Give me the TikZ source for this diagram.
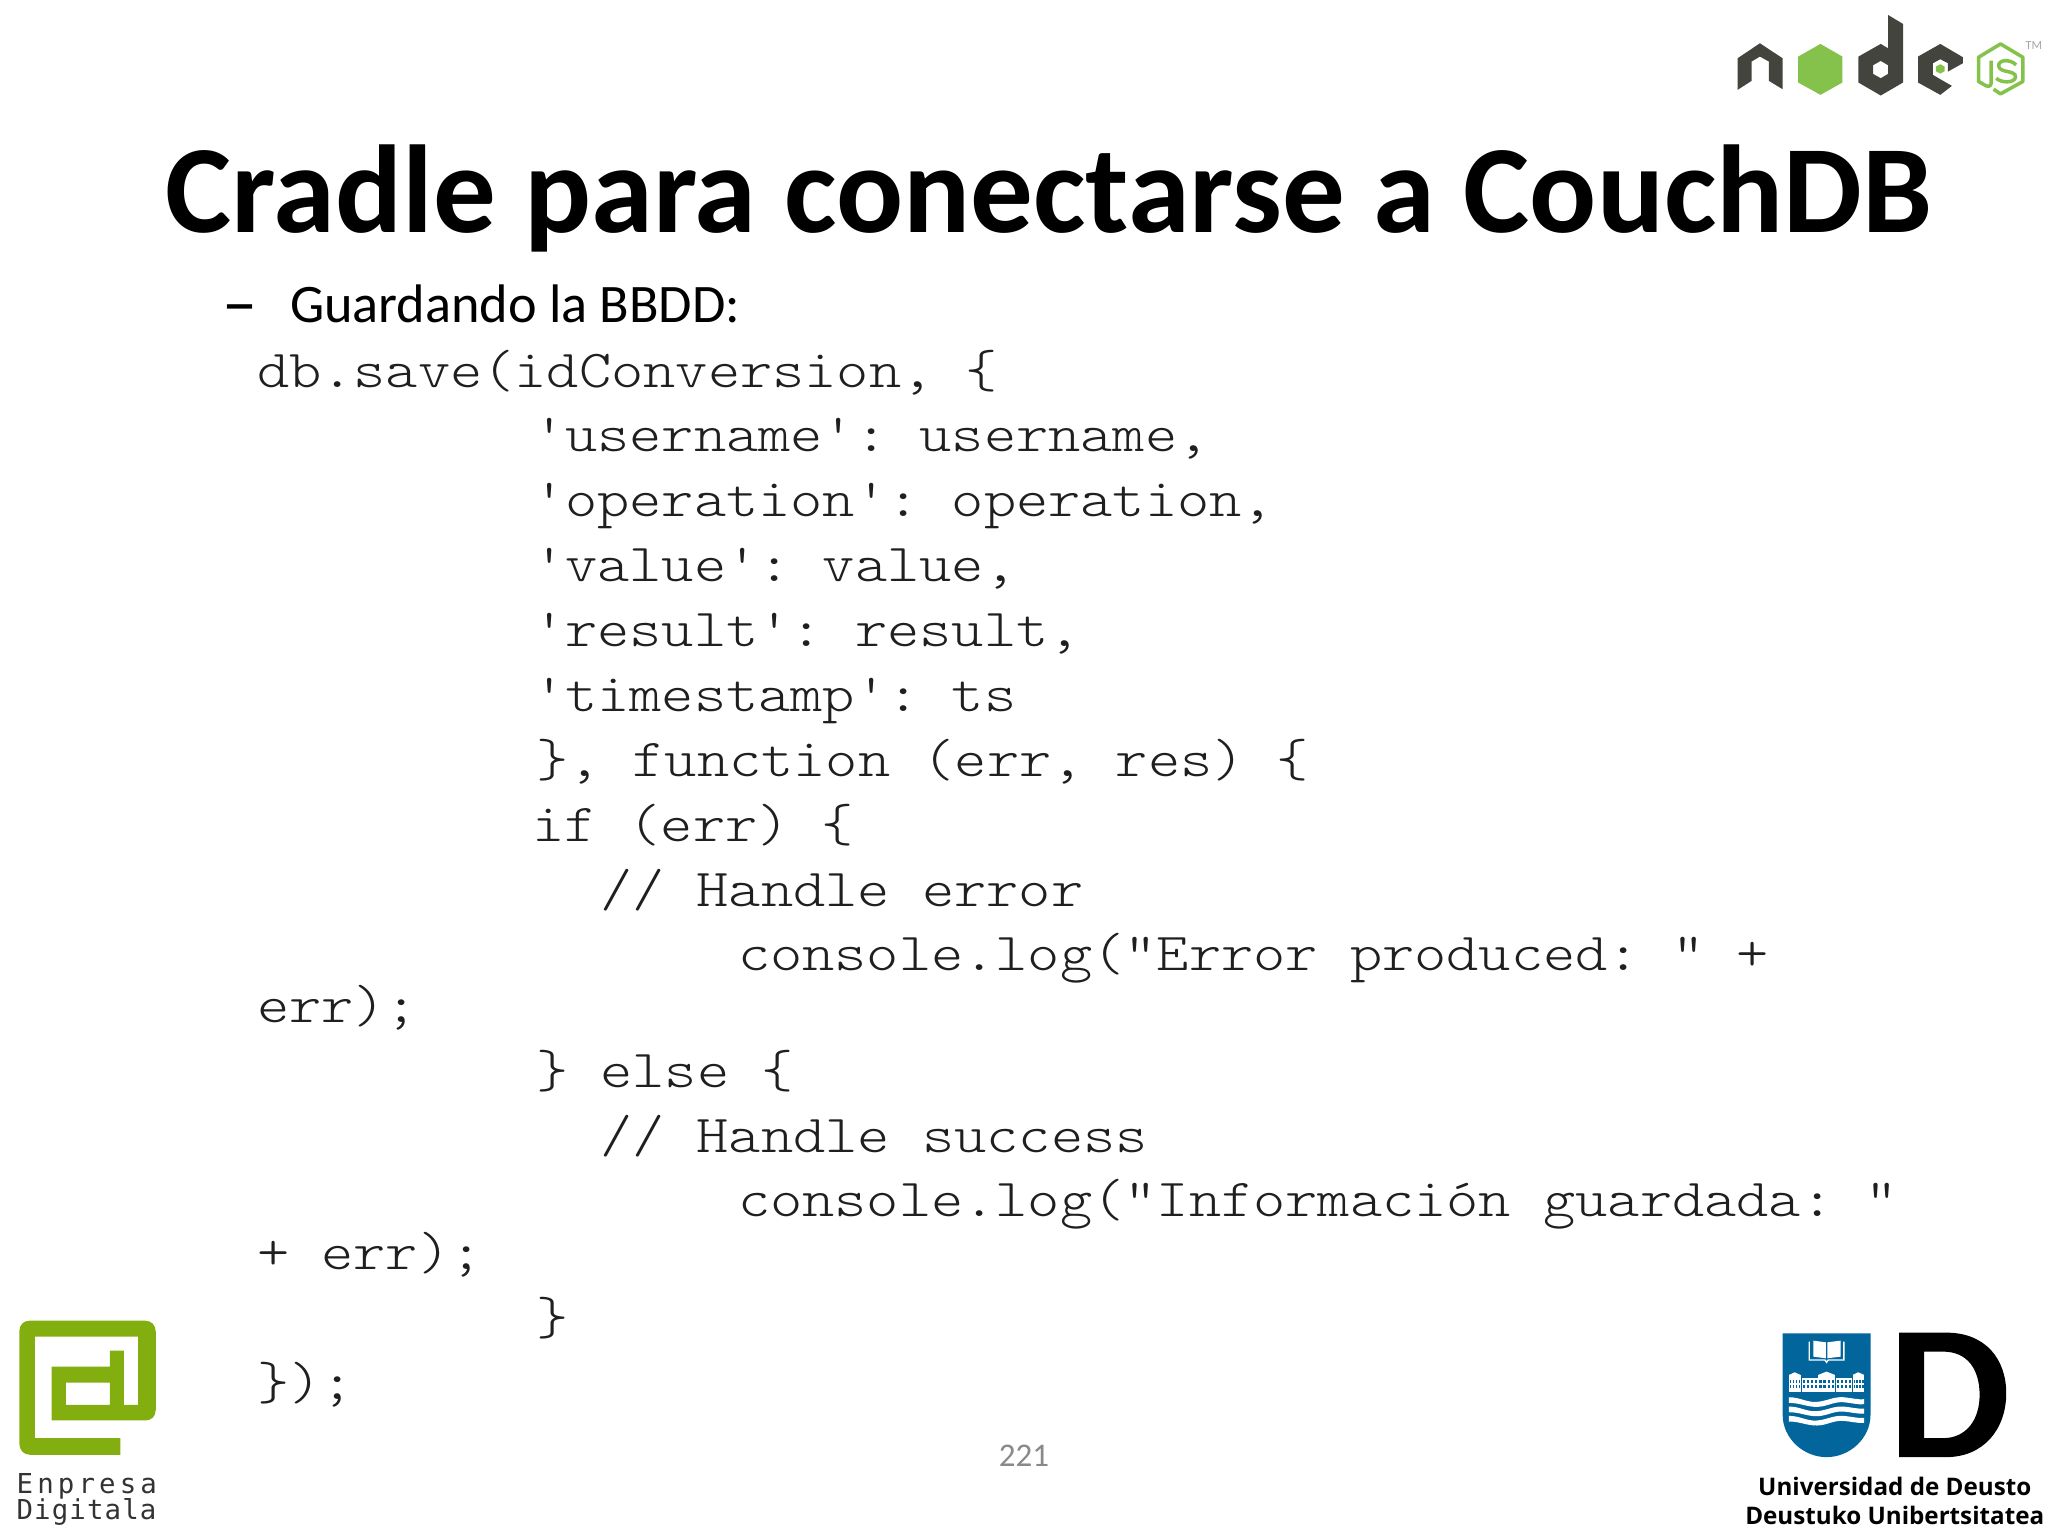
\documentclass[tikz,border=0pt]{standalone}
\usepackage{fontspec}
\setmainfont{Carlito}
\newfontfamily\codefont[FakeStretch=1.148]{Latin Modern Mono Light}
\newfontfamily\deustofont{Open Sans}
\newfontfamily\enpresafont[LetterSpace=15]{DejaVu Sans Mono}
\newfontfamily\digitalafont[LetterSpace=4]{DejaVu Sans Mono}
\usepackage{tikz}
\usetikzlibrary{positioning}

\definecolor{nodedark}{RGB}{68,68,62}
\definecolor{nodegreen}{RGB}{133,194,76}
\definecolor{enpresagreen}{RGB}{130,175,15}
\definecolor{deustoblue}{RGB}{2,101,156}
\definecolor{pagegray}{RGB}{137,137,137}

\tikzset{
  textline/.style={inner sep=0pt,outer sep=0pt,anchor=base west},
  titletext/.style={inner sep=0pt,anchor=base,font=\fontsize{35.55}{40}\selectfont\bfseries},
  bodytext/.style={textline,font=\fontsize{15.43}{18}\selectfont},
  codeline/.style={textline,text=black!88,font=\codefont\frenchspacing\fontsize{15.2}{18}\selectfont},
  deustotext/.style={inner sep=0pt,anchor=base,font=\deustofont\fontsize{6.88}{9}\selectfont\bfseries},
  zoomed/.style 2 args={shift={(#1,#2)},x=0.003333cm,y=-0.003333cm},
}

\begin{document}
\begin{tikzpicture}[x=0.01cm,y=-0.01cm]
\useasboundingbox (0,0) rectangle (2048,1536);

% title and bullet
\node[titletext] (title) at (1049,232) {Cradle para conectarse a CouchDB};
\node[textline,font=\fontsize{20}{22}\selectfont] (dash) at (222,326) {–};
\node[bodytext] (subtitle) at (290,322) {Guardando la BBDD:};

% code
\node[codeline] (line1) at (257,387) {db.save(idConversion, \{};
\node[codeline] (line2) at (533,451) {'username': username,};
\node[codeline] (line3) at (533,516) {'operation': operation,};
\node[codeline] (line4) at (533,581) {'value': value,};
\node[codeline] (line5) at (533,646) {'result': result,};
\node[codeline] (line6) at (533,711) {'timestamp': ts};
\node[codeline] (line7) at (536,776) {\}, function (err, res) \{};
\node[codeline] (line8) at (532,841) {if (err) \{};
\node[codeline] (line9) at (600,906) {// Handle error};
\node[codeline] (line10) at (738,970) {console.log("Error produced: " +};
\node[codeline] (line11) at (257,1022) {err);};
\node[codeline] (line12) at (536,1087) {\} else \{};
\node[codeline] (line13) at (600,1152) {// Handle success};
\node[codeline] (line14) at (738,1216) {console.log("Información guardada: "};
\node[codeline] (line15) at (257,1269) {+ err);};
\node[codeline] (line16) at (536,1334) {\}};
\node[codeline] (line17) at (257,1399) {\});};

\node[inner sep=0pt,anchor=base,text=pagegray,font=\fontsize{9.4}{11}\selectfont] (pagenum) at (1024,1466) {221};

% node logo
\begin{scope}[zoomed={1700}{0}]
\fill[nodedark] (113,175) -- (180,130) -- (248,175) -- (248,268) -- (207,243) -- (207,185)
  -- (180,170) -- (155,185) -- (155,243) -- (113,270) -- cycle;
\fill[nodegreen] (362,132) -- (428,170) -- (428,248) -- (362,285) -- (295,248) -- (295,170) -- cycle;
\fill[nodedark,even odd rule] (565,45) -- (610,72) -- (610,248) -- (543,287) -- (476,248)
  -- (476,170) -- (543,132) -- (565,145) -- cycle
  (543,183) -- (565,196) -- (565,222) -- (543,235) -- (520,222) -- (520,196) -- cycle;
\fill[nodedark] (722,132) -- (790,172) -- (790,190) -- (745,215) -- (745,190) -- (722,178)
  -- (700,190) -- (700,225) -- (722,238) -- (757,258) -- (722,285) -- (655,248) -- (655,170) -- cycle;
\fill[nodegreen] (722,193) -- (735,200) -- (735,214) -- (722,221) -- (709,214) -- (709,200) -- cycle;
\draw[nodegreen,line width=1pt,line join=round] (882,268) -- (903,282) -- (970,245) -- (970,172)
  -- (903,132) -- (837,172) -- (837,245) -- (860,258) .. controls (872,262) and (875,255) .. (875,245) -- (875,182);
\draw[nodegreen,line width=1pt] (950,195) .. controls (930,175) and (893,180) .. (898,200)
  .. controls (902,220) and (950,210) .. (948,232) .. controls (945,250) and (905,250) .. (890,235);
\node[inner sep=0pt,text=gray!70,font=\fontsize{3.5}{4}\selectfont] (trademark) at (1003,138) {TM};
\end{scope}

% enpresa digitala logo
\begin{scope}[zoomed={0}{1300}]
\fill[enpresagreen,even odd rule] (362,465) -- (90,465) .. controls (70,465) and (58,450) .. (58,430)
  -- (58,95) .. controls (58,75) and (70,62) .. (90,62) -- (435,62) .. controls (455,62) and (468,75) .. (468,95)
  -- (468,330) .. controls (468,350) and (455,362) .. (435,362) -- (155,362) -- (155,200) -- (330,200)
  -- (330,152) -- (372,152) -- (372,315) -- (415,315) -- (415,110) -- (105,110) -- (105,415) -- (362,415) -- cycle
  (198,248) rectangle (330,315);
\node[textline,text=black!80,font=\enpresafont\fontsize{7.8}{9}\selectfont] (enpresa) at (50,582) {Enpresa};
\node[textline,text=black!80,font=\digitalafont\fontsize{7.8}{9}\selectfont] (digitala) at (50,660) {Digitala};
\end{scope}

% deusto shield
\begin{scope}[zoomed={1770}{1325}]
\fill[deustoblue] (38,25) -- (302,25) -- (302,270) .. controls (302,340) and (240,397) .. (170,397)
  .. controls (100,397) and (38,340) .. (38,270) -- cycle;
\fill[white] (130,47) -- (168,52) -- (168,100) -- (130,95) -- cycle;
\fill[white] (172,52) -- (212,47) -- (212,95) -- (172,100) -- cycle;
\draw[white,line width=0.4pt] (118,50) -- (118,105) -- (165,105) -- (170,112) -- (175,105) -- (222,105) -- (222,50);
\foreach \bx/\by/\bw in {57/150/35,97/158/46,145/150/50,198/158/47,248/150/35}{
  \fill[white] (\bx,\by) rectangle +(\bw,200-\by);
  \foreach \i in {0,1,2,3}{
    \fill[deustoblue] (\bx+3+\i*\bw/4,165) rectangle +(\bw/4-5,8);
    \fill[deustoblue] (\bx+3+\i*\bw/4,180) rectangle +(\bw/4-5,8);
  }
}
\fill[white] (57,150) -- (74,142) -- (92,150) -- cycle;
\fill[white] (145,150) -- (170,140) -- (195,150) -- cycle;
\fill[white] (248,150) -- (265,142) -- (283,150) -- cycle;
\foreach \wy in {225,253,281}{
  \fill[white] (57,\wy-8) .. controls (90,\wy-8) and (110,\wy+8) .. (140,\wy+6)
    .. controls (170,\wy+4) and (190,\wy-10) .. (220,\wy-8) .. controls (245,\wy-6) and (265,\wy) .. (283,\wy-2)
    -- (283,\wy+13) .. controls (265,\wy+15) and (245,\wy+9) .. (220,\wy+7)
    .. controls (190,\wy+5) and (170,\wy+21) .. (140,\wy+21) .. controls (110,\wy+21) and (90,\wy+9) .. (57,\wy+9) -- cycle;
}
\end{scope}

% deusto letter and names
\begin{scope}[zoomed={1730}{1310}]
\fill[black,even odd rule] (508,68) -- (650,68) .. controls (770,68) and (830,150) .. (830,250)
  .. controls (830,360) and (760,442) .. (650,442) -- (508,442) -- cycle
  (583,125) -- (640,125) .. controls (715,125) and (750,180) .. (750,255)
  .. controls (750,330) and (710,385) .. (640,385) -- (583,385) -- cycle;
\node[deustotext] (deustoes) at (495,558) {Universidad de Deusto};
\node[deustotext] (deustoeu) at (495,645) {Deustuko Unibertsitatea};
\end{scope}
\end{tikzpicture}
\end{document}
